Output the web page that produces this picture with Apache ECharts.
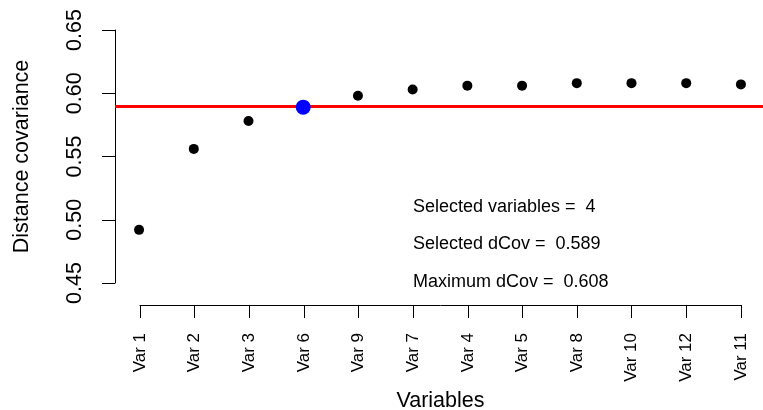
<!DOCTYPE html>
<html>
<head>
<meta charset="utf-8">
<script src="https://cdn.jsdelivr.net/npm/echarts@6/dist/echarts.min.js"></script>
<style>
  html, body { margin: 0; padding: 0; background: #fff; }
  #chart { width: 763px; height: 410px; }
</style>
</head>
<body>
<div id="chart"></div>
<script>
// variables in selection order and their distance covariance
const categories = ['Var 1', 'Var 2', 'Var 3', 'Var 6', 'Var 9', 'Var 7', 'Var 4', 'Var 5', 'Var 8', 'Var 10', 'Var 12', 'Var 11']
const dcov = [0.492, 0.556, 0.578, 0.589, 0.598, 0.603, 0.606, 0.606, 0.608, 0.608, 0.608, 0.607]
const selectedIndex = 3
const selectedDcov = 0.589
const maxDcov = 0.608
const yTicks = [0.45, 0.50, 0.55, 0.60, 0.65]
const notes = ['Selected variables =  4', 'Selected dCov =  0.589', 'Maximum dCov =  0.608']

const font = '"Liberation Sans", Arial, Helvetica, sans-serif'
const chart = echarts.init(document.getElementById('chart'))

const points = dcov.map((v, i) => [i + 1, v])

const option = {
  backgroundColor: '#fff',
  animation: false,
  textStyle: { fontFamily: font, color: '#000' },
  grid: [
    // data region (R extends x range by 4%)
    { left: 115, top: 30, width: 650, height: 253, outerBoundsMode: 'none', containLabel: false },
    // x axis drawn only between first and last tick
    { left: 140, top: 30, width: 601, height: 253, outerBoundsMode: 'none', containLabel: false }
  ],
  xAxis: [
    {
      gridIndex: 0,
      type: 'value',
      min: 0.56,
      max: 12.44,
      show: false
    },
    {
      gridIndex: 1,
      type: 'category',
      data: categories,
      boundaryGap: false,
      position: 'bottom',
      offset: 22,
      axisLine: { lineStyle: { color: '#000', width: 1 } },
      axisTick: { length: 13, lineStyle: { color: '#000' }, interval: 0 },
      axisLabel: {
        interval: 0,
        rotate: 90,
        margin: 28,
        fontSize: 17,
        color: '#000',
        fontFamily: font
      },
      splitLine: { show: false },
      name: 'Variables',
      nameLocation: 'middle',
      nameGap: 82,
      nameTextStyle: { fontSize: 21.5, color: '#000', fontFamily: font }
    }
  ],
  yAxis: [
    {
      gridIndex: 0,
      type: 'value',
      min: yTicks[0],
      max: yTicks[yTicks.length - 1],
      interval: 0.05,
      axisLine: { show: true, lineStyle: { color: '#000', width: 1 } },
      axisTick: { show: true, inside: false, length: 13, lineStyle: { color: '#000', width: 1 } },
      axisLabel: {
        rotate: 90,
        margin: 29,
        fontSize: 21.5,
        color: '#000',
        fontFamily: font,
        formatter: v => v.toFixed(2)
      },
      splitLine: { show: false },
      name: 'Distance covariance',
      nameLocation: 'middle',
      nameGap: 82,
      nameTextStyle: { fontSize: 21.5, color: '#000', fontFamily: font }
    },
    {
      gridIndex: 1,
      type: 'value',
      min: yTicks[0],
      max: yTicks[yTicks.length - 1],
      show: false
    }
  ],
  series: [
    {
      type: 'scatter',
      xAxisIndex: 0,
      yAxisIndex: 0,
      data: points.filter((p, i) => i !== selectedIndex),
      symbolSize: 10,
      itemStyle: { color: '#000', opacity: 1 },
      markLine: {
        silent: true,
        symbol: 'none',
        label: { show: false },
        lineStyle: { color: '#ff0000', width: 3, type: 'solid', opacity: 1 },
        data: [{ yAxis: selectedDcov }]
      }
    },
    {
      type: 'scatter',
      xAxisIndex: 0,
      yAxisIndex: 0,
      data: [points[selectedIndex]],
      symbolSize: 15,
      itemStyle: { color: '#0000ff', opacity: 1 },
      z: 5
    }
  ],
  graphic: notes.map((t, i) => ({
    type: 'text',
    left: 413,
    top: 198 + i * 37.5,
    style: { text: t, fontSize: 18, fontFamily: font, fill: '#000' }
  }))
}

chart.setOption(option)
</script>
</body>
</html>
